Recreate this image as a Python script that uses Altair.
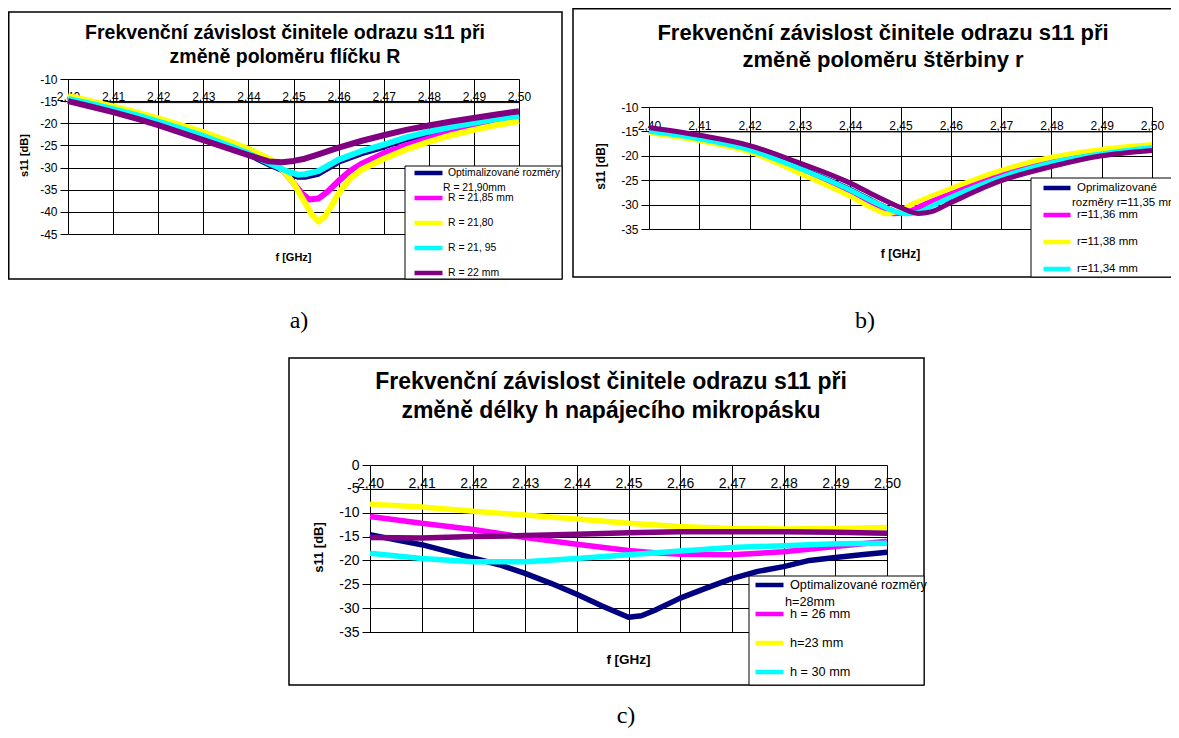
import altair as alt
import pandas as pd

FONT = "Liberation Sans"
SERIF = "Liberation Serif"
NAVY, MAGENTA, YELLOW, CYAN, PURPLE = "#000080", "#FF00FF", "#FFFF00", "#00FFFF", "#800080"
COLORS = [NAVY, MAGENTA, YELLOW, CYAN, PURPLE]

X_TICKS = [2.40, 2.41, 2.42, 2.43, 2.44, 2.45, 2.46, 2.47, 2.48, 2.49, 2.50]
A_Y_TICKS = [-10, -15, -20, -25, -30, -35, -40, -45]
B_Y_TICKS = [-10, -15, -20, -25, -30, -35]
C_Y_TICKS = [0, -5, -10, -15, -20, -25, -30, -35]

TITLE_1 = "Frekvenční závislost činitele odrazu s11 při"
A_TITLE_2 = "změně poloměru flíčku R"
B_TITLE_2 = "změně poloměru štěrbiny r"
C_TITLE_2 = "změně délky h napájecího mikropásku"

# ---------------- chart a) ----------------
A_SERIES = ["Optimalizované rozměry", "R = 21,85 mm", "R = 21,80", "R = 21, 95", "R = 22 mm"]
A_EXTRA_LINE = "R = 21,90mm"
A_F_OPT = [2.400, 2.405, 2.410, 2.415, 2.420, 2.425, 2.430, 2.435, 2.440, 2.445, 2.4485, 2.451,
           2.4525, 2.4555, 2.460, 2.465, 2.470, 2.475, 2.480, 2.485, 2.490, 2.495, 2.500]
A_S_OPT = [-14.7, -15.8, -17.0, -18.3, -19.8, -21.5, -23.2, -25.1, -27.0, -29.5, -31.0, -32.1,
           -32.1, -31.4, -28.7, -26.8, -25.3, -23.6, -22.3, -21.1, -20.2, -19.2, -18.5]
A_F_MAG = [2.400, 2.405, 2.410, 2.415, 2.420, 2.425, 2.430, 2.435, 2.440, 2.445, 2.448, 2.450, 2.452,
           2.4535, 2.4555, 2.4575, 2.460, 2.4625, 2.465, 2.470, 2.475, 2.480, 2.485, 2.490, 2.495, 2.500]
A_S_MAG = [-14.0, -15.2, -16.4, -17.7, -19.1, -20.7, -22.4, -24.2, -26.2, -28.6, -31.0, -33.5, -36.0,
           -37.2, -37.0, -35.5, -33.0, -30.8, -29.2, -26.8, -25.0, -23.4, -22.0, -20.9, -19.8, -18.8]
A_F_YEL = [2.400, 2.405, 2.410, 2.415, 2.420, 2.425, 2.430, 2.435, 2.440, 2.445, 2.448, 2.450, 2.452,
           2.454, 2.4555, 2.457, 2.4585, 2.460, 2.4625, 2.465, 2.470, 2.475, 2.480, 2.485, 2.490, 2.495, 2.500]
A_S_YEL = [-13.8, -15.0, -16.2, -17.5, -18.9, -20.4, -22.0, -23.8, -25.8, -28.2, -31.0, -33.5, -37.0,
           -40.5, -42.2, -41.0, -38.5, -35.8, -32.5, -30.5, -28.0, -25.9, -24.2, -22.7, -21.5, -20.4, -19.5]
A_F_CYAN = A_F_OPT
A_S_CYAN = [-14.5, -15.6, -16.8, -18.1, -19.6, -21.2, -22.9, -24.8, -26.8, -29.2, -30.8, -31.6,
            -31.5, -30.8, -28.2, -26.3, -24.8, -23.2, -21.9, -20.8, -19.9, -19.0, -18.3]
A_F_PUR = [2.400, 2.405, 2.410, 2.415, 2.420, 2.425, 2.430, 2.435, 2.440, 2.4445, 2.4475, 2.450,
           2.4525, 2.455, 2.460, 2.465, 2.470, 2.475, 2.480, 2.485, 2.490, 2.495, 2.500]
A_S_PUR = [-15.0, -16.2, -17.5, -18.9, -20.4, -22.1, -23.8, -25.5, -27.2, -28.6, -28.8, -28.5,
           -28.0, -27.2, -25.5, -24.0, -22.7, -21.5, -20.5, -19.6, -18.8, -18.0, -17.3]

# ---------------- chart b) ----------------
B_SERIES = ["Oprimalizované", "r=11,36 mm", "r=11,38 mm", "r=11,34 mm", "série 5"]
B_EXTRA_LINE = "rozměry r=11,35 mm"
B_F_OPT = [2.40, 2.41, 2.42, 2.43, 2.44, 2.445, 2.4505, 2.4525, 2.455, 2.46, 2.47, 2.48, 2.49, 2.50]
B_S_OPT = [-14.8, -16.4, -18.7, -22.5, -26.9, -29.5, -31.8, -31.6, -30.4, -28.1, -24.0, -21.1, -19.4, -18.4]
B_F_MAG = [2.40, 2.41, 2.42, 2.43, 2.44, 2.445, 2.4485, 2.451, 2.455, 2.46, 2.47, 2.48, 2.49, 2.50]
B_S_MAG = [-15.0, -16.6, -18.9, -22.9, -27.4, -30.1, -31.9, -31.6, -29.8, -27.7, -23.7, -20.8, -19.2, -18.3]
B_F_YEL = [2.40, 2.41, 2.42, 2.43, 2.44, 2.445, 2.4475, 2.4495, 2.4525, 2.46, 2.47, 2.48, 2.49, 2.50]
B_S_YEL = [-15.3, -16.9, -19.2, -23.6, -28.3, -31.0, -31.9, -31.3, -29.8, -26.7, -23.0, -20.3, -18.7, -17.7]
B_F_CYAN = [2.40, 2.41, 2.42, 2.43, 2.44, 2.445, 2.451, 2.4535, 2.456, 2.46, 2.47, 2.48, 2.49, 2.50]
B_S_CYAN = [-14.9, -16.5, -18.8, -22.6, -27.0, -29.6, -31.9, -31.6, -30.4, -28.5, -24.4, -21.4, -19.6, -18.3]
B_F_PUR = [2.40, 2.41, 2.42, 2.43, 2.44, 2.445, 2.45, 2.4535, 2.456, 2.46, 2.47, 2.48, 2.49, 2.50]
B_S_PUR = [-14.2, -15.8, -17.9, -21.5, -25.6, -28.2, -30.6, -31.8, -31.5, -29.6, -25.1, -22.2, -20.0, -18.9]

# ---------------- chart c) ----------------
C_SERIES = ["Optimalizované rozměry", "h = 26 mm", "h=23 mm", "h = 30 mm", "série 5"]
C_EXTRA_LINE = "h=28mm"
C_F_OPT = [2.40, 2.405, 2.41, 2.415, 2.42, 2.425, 2.43, 2.435, 2.44, 2.445, 2.45, 2.4525,
           2.455, 2.46, 2.465, 2.47, 2.475, 2.48, 2.485, 2.49, 2.495, 2.50]
C_S_OPT = [-14.6, -15.7, -16.7, -18.1, -19.5, -20.9, -22.7, -24.8, -27.1, -29.6, -31.9, -31.6,
           -30.5, -27.9, -25.8, -23.8, -22.3, -21.3, -20.0, -19.4, -18.8, -18.3]
C_F_MAG = [2.40, 2.41, 2.42, 2.43, 2.44, 2.45, 2.455, 2.46, 2.47, 2.48, 2.49, 2.50]
C_S_MAG = [-10.8, -12.2, -13.5, -15.2, -16.6, -17.9, -18.4, -18.7, -18.8, -18.2, -17.1, -16.0]
C_F_STD = [2.40, 2.41, 2.42, 2.43, 2.44, 2.45, 2.46, 2.47, 2.48, 2.49, 2.50]
C_S_YEL = [-8.2, -8.8, -9.7, -10.5, -11.3, -12.2, -12.9, -13.3, -13.4, -13.3, -13.1]
C_S_CYAN = [-18.5, -19.6, -20.3, -20.3, -19.6, -18.8, -18.0, -17.3, -16.9, -16.5, -16.4]
C_S_PUR = [-15.2, -15.3, -15.0, -14.8, -14.5, -14.2, -14.0, -14.0, -14.0, -14.1, -14.3]


def long_df(names, fs, ss):
    rows = []
    for n, f, s in zip(names, fs, ss):
        for fi, si in zip(f, s):
            rows.append({"f": fi, "s11": si, "series": n})
    return pd.DataFrame(rows)


df_a = long_df(A_SERIES, [A_F_OPT, A_F_MAG, A_F_YEL, A_F_CYAN, A_F_PUR],
               [A_S_OPT, A_S_MAG, A_S_YEL, A_S_CYAN, A_S_PUR])
df_b = long_df(B_SERIES, [B_F_OPT, B_F_MAG, B_F_YEL, B_F_CYAN, B_F_PUR],
               [B_S_OPT, B_S_MAG, B_S_YEL, B_S_CYAN, B_S_PUR])
df_c = long_df(C_SERIES, [C_F_OPT, C_F_MAG, C_F_STD, C_F_STD, C_F_STD],
               [C_S_OPT, C_S_MAG, C_S_YEL, C_S_CYAN, C_S_PUR])


def x_axis(offset, title_x, title_y, label_size, title_size, pad):
    return alt.Axis(
        orient="top", offset=offset, values=X_TICKS,
        labelExpr="replace(format(datum.value, '.2f'), '.', ',')",
        labelFlush=False, labelOverlap=False, ticks=False, labelPadding=pad,
        labelFont=FONT, labelFontSize=label_size, labelColor="black",
        domainColor="black", domainWidth=1,
        grid=True, gridColor="black", gridWidth=1, gridOpacity=1,
        title="f [GHz]", titleX=title_x, titleY=title_y, titleFont=FONT,
        titleFontSize=title_size, titleFontWeight="bold", titleColor="black",
        titleBaseline="middle", titleAlign="center", titleAngle=0)


def y_axis(offset, values, title_x, title_y, label_size, title_size):
    return alt.Axis(
        orient="left", offset=offset, values=values, labelExpr="datum.value + ''",
        labelOverlap=False, labelFlush=False,
        labelFont=FONT, labelFontSize=label_size, labelColor="black", labelPadding=3,
        ticks=True, tickSize=8, tickColor="black", tickWidth=1,
        domainColor="black", domainWidth=1,
        grid=True, gridColor="black", gridWidth=1, gridOpacity=1,
        title="s11 [dB]", titleX=title_x, titleY=title_y, titleFont=FONT,
        titleFontSize=title_size, titleFontWeight="bold", titleColor="black",
        titleAngle=270, titleBaseline="middle", titleAlign="center")


def legend(x, y, values, size, row_h, sym_off, sym_len, lab_off):
    return alt.Legend(
        orient="none", legendX=x, legendY=y, title=None, values=values,
        symbolType="stroke", symbolSize=sym_len * sym_len, symbolStrokeWidth=4.5,
        symbolOffset=sym_off, labelOffset=lab_off, labelFont=FONT, labelFontSize=size,
        labelColor="black", labelLimit=400, rowPadding=0, padding=0,
        clipHeight=row_h)


def line_layer(df, names, xr, yd, yr, xax, yax, leg, width, interp="linear"):
    return alt.Chart(df).mark_line(strokeWidth=width, interpolate=interp, strokeJoin="round").encode(
        x=alt.X("f:Q", scale=alt.Scale(domain=[2.40, 2.50], range=xr, nice=False, zero=False), axis=xax),
        y=alt.Y("s11:Q", scale=alt.Scale(domain=yd, range=yr, nice=False, zero=False), axis=yax),
        color=alt.Color("series:N", scale=alt.Scale(domain=names, range=COLORS), legend=leg),
    )


def text(txt, x, y, size, bold=False, font=FONT, align="center", baseline="middle"):
    return alt.Chart(alt.Data(values=[{}])).mark_text(
        text=txt, font=font, fontSize=size, fontWeight="bold" if bold else "normal",
        align=align, baseline=baseline, color="black").encode(x=alt.value(x), y=alt.value(y))


def box(x0, x1, y0, y1, fill_white=False, width=1.5):
    props = dict(stroke="black", strokeWidth=width)
    if fill_white:
        props["fill"] = "white"
    else:
        props["fillOpacity"] = 0
    return alt.Chart(alt.Data(values=[{}])).mark_rect(**props).encode(
        x=alt.value(x0), x2=alt.value(x1), y=alt.value(y0), y2=alt.value(y1))


layers = [
    box(0.75, 554, 4, 271),
    box(565, 1200, 0.75, 269),
    box(281, 916, 350, 677),
    line_layer(df_a, A_SERIES, [60, 511], [-45, -10], [226, 71],
               x_axis(-94.1, 285, 154.9, 12, 11, -1),
               y_axis(-60, A_Y_TICKS, -43.5, 147, 12, 11),
               legend(397, 152.9, A_SERIES, 10.4, 24.2, 7, 28, 3), 6),
    line_layer(df_b, B_SERIES, [641, 1144], [-35, -10], [221, 99],
               x_axis(-123.4, 892, 121.6, 12, 12, -1),
               y_axis(-641, B_Y_TICKS, -49, 158, 12, 12),
               legend(1023, 166.6, B_SERIES[:4], 11.5, 26.7, 10, 27, 4), 5, "monotone"),
    line_layer(df_c, C_SERIES, [362, 879], [-35, 0], [624, 457],
               x_axis(-480.9, 620, 170.1, 14, 13.5, -2),
               y_axis(-362, C_Y_TICKS, -52, 539, 14, 13),
               legend(741, 562.5, C_SERIES[:4], 12.7, 29, 4, 28, 4), 5.5),
    box(397, 554, 158, 271, fill_white=True, width=1),
    box(1023, 1200, 170, 269, fill_white=True, width=1),
    box(741, 916, 568, 677, fill_white=True, width=1),
    text(TITLE_1, 277, 25, 19.5, bold=True),
    text(A_TITLE_2, 277, 49, 19.5, bold=True),
    text(TITLE_1, 875, 25, 22, bold=True),
    text(B_TITLE_2, 875, 52, 22, bold=True),
    text(TITLE_1, 603, 374, 23, bold=True),
    text(C_TITLE_2, 603, 403, 23, bold=True),
    text(A_EXTRA_LINE, 435, 180, 10.4, align="left"),
    text(B_EXTRA_LINE, 1064, 195, 11.5, align="left"),
    text(C_EXTRA_LINE, 777, 594, 12.7, align="left"),
    text("a)", 291, 320, 24, font=SERIF, baseline="alphabetic"),
    text("b)", 857, 320, 24, font=SERIF, baseline="alphabetic"),
    text("c)", 618, 715, 24, font=SERIF, baseline="alphabetic"),
]

chart = alt.layer(*layers).resolve_scale(
    x="independent", y="independent", color="independent"
).properties(
    width=1163, height=722, padding=0,
    autosize=alt.AutoSizeParams(type="none"),
).configure_view(strokeWidth=0)

chart.save("out.html", embed_options={"renderer": "svg", "actions": False})
